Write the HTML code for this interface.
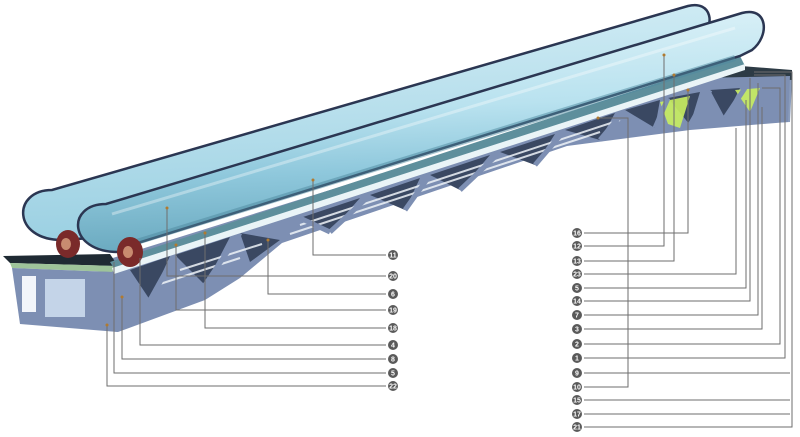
<!DOCTYPE html>
<html><head><meta charset="utf-8"><style>
html,body{margin:0;padding:0;background:#fff;}
svg{display:block;}
text{font-family:"Liberation Sans",sans-serif;font-size:7px;font-weight:bold;fill:#fff;text-anchor:middle;}
</style></head><body>
<svg width="800" height="437" viewBox="0 0 800 437" xmlns="http://www.w3.org/2000/svg">
<defs>
<linearGradient id="gl" x1="0" y1="0" x2="0.12" y2="1">
<stop offset="0" stop-color="#e2f4f9"/><stop offset="0.45" stop-color="#b9e2ef"/><stop offset="0.7" stop-color="#8fc8dc"/><stop offset="1" stop-color="#6aa9bf"/>
</linearGradient>
<linearGradient id="gl2" x1="0" y1="0" x2="0.12" y2="1">
<stop offset="0" stop-color="#d4eef6"/><stop offset="1" stop-color="#9bd0e2"/>
</linearGradient>
</defs>

<!-- rear balustrade -->
<path d="M62,240 C12,240 12,190 52,190 L688,6 C712,0 716,26 700,38 L668,56 L120,236 Z" fill="url(#gl2)" stroke="#2b3652" stroke-width="2.5"/>

<!-- right landing -->
<polygon points="690,62 792,70 792,80 700,78" fill="#2d3b45"/>
<polygon points="700,78 792,80 790,122 700,126" fill="#8a9cbc"/>
<rect x="735" y="92" width="40" height="30" fill="#c6d8ea"/>

<!-- truss -->
<polygon points="100,262 640,93 700,78 790,76 788,122 690,130 567,146 282,243 240,278 205,300 118,332 100,330" fill="#7d8fb3"/>
<g fill="#3a4862">
<polygon points="130,270 170,256 150,300"/>
<polygon points="175,255 230,237 205,285"/>
<polygon points="240,233 280,240 250,262"/>
<polygon points="300,218 360,198 330,232"/>
<polygon points="370,195 420,178 405,210"/>
<polygon points="430,175 490,155 460,190"/>
<polygon points="500,152 555,134 535,165"/>
<polygon points="565,130 615,113 600,140"/>
<polygon points="625,110 660,100 655,128"/>
<polygon points="668,98 700,92 690,125"/>
<polygon points="710,90 740,88 725,118"/>
</g>
<g fill="#c9ef60" opacity="0.9">
<polygon points="660,102 690,96 680,128 668,124"/>
<polygon points="735,90 760,88 750,112"/>
</g>
<g stroke="#eef3f8" stroke-width="2" opacity="0.85">
<line x1="300" y1="225" x2="620" y2="120"/>
<line x1="290" y1="234" x2="600" y2="132"/>
<line x1="180" y1="270" x2="262" y2="244"/>
<line x1="160" y1="284" x2="240" y2="258"/>
</g>
<g stroke="#7d8fb3" stroke-width="5">
<line x1="150" y1="300" x2="175" y2="255"/><line x1="205" y1="285" x2="240" y2="233"/>
<line x1="330" y1="232" x2="300" y2="218"/><line x1="330" y1="232" x2="370" y2="195"/>
<line x1="405" y1="210" x2="430" y2="175"/><line x1="460" y1="190" x2="500" y2="152"/>
<line x1="535" y1="165" x2="565" y2="130"/><line x1="600" y1="140" x2="625" y2="110"/>
<line x1="655" y1="128" x2="668" y2="98"/><line x1="690" y1="125" x2="710" y2="90"/>
<line x1="725" y1="118" x2="745" y2="88"/>
</g>

<!-- left landing -->
<polygon points="3,256 110,254 118,266 10,263" fill="#1f2a33"/>
<polygon points="10,263 118,266 112,272 12,268" fill="#9ec49a"/>
<polygon points="12,268 112,272 118,332 20,324" fill="#7d8fb3"/>
<rect x="22" y="276" width="14" height="36" fill="#f2f5fa"/>
<rect x="45" y="279" width="40" height="38" fill="#c4d4e8"/>

<!-- deck band -->
<polygon points="110,262 740,56 745,66 115,270" fill="#5e8f9c"/>
<polygon points="112,268 745,64 745,70 114,274" fill="#eaf4f7"/>

<!-- front balustrade -->
<path d="M118,252 C68,252 66,204 106,204 L742,13 C768,6 770,36 752,50 L740,56 L128,246 Z" fill="url(#gl)" stroke="#2b3652" stroke-width="2.5"/>
<path d="M112,214 L735,28" stroke="#ffffff" stroke-width="3" opacity="0.35"/>
<path d="M130,244 L735,58" stroke="#4f8aa0" stroke-width="6" opacity="0.5"/>

<!-- newel wheels -->
<ellipse cx="68" cy="244" rx="12" ry="14" fill="#7a2a2a"/>
<ellipse cx="130" cy="252" rx="13" ry="15" fill="#7a2a2a"/>
<ellipse cx="66" cy="244" rx="5" ry="6" fill="#c88b70"/>
<ellipse cx="128" cy="252" rx="5" ry="6" fill="#c88b70"/>

<!-- leader lines -->
<g stroke="#6e6e6e" stroke-width="1" fill="none">
<polyline points="313,180 313,255 386,255"/>
<polyline points="167,208 167,276 386,276"/>
<polyline points="268,240 268,294 386,294"/>
<polyline points="176,245 176,310 386,310"/>
<polyline points="205,233 205,328 386,328"/>
<polyline points="140,258 140,345 386,345"/>
<polyline points="122,297 122,359 386,359"/>
<polyline points="114,262 114,373 386,373"/>
<polyline points="107,325 107,386 386,386"/>

<polyline points="584,233 688,233 688,90"/>
<polyline points="584,246 664,246 664,55"/>
<polyline points="584,261 674,261 674,75"/>
<polyline points="584,274 736,274 736,128"/>
<polyline points="584,288 746,288 746,100"/>
<polyline points="584,301 750,301 750,78"/>
<polyline points="584,315 758,315 758,83"/>
<polyline points="584,329 762,329 762,107"/>
<polyline points="584,344 780,344 780,88 762,88"/>
<polyline points="584,358 785,358 785,75 754,75"/>
<polyline points="584,373 790,373"/>
<polyline points="584,387 628,387 628,118 598,118"/>
<polyline points="584,400 790,400"/>
<polyline points="584,414 790,414"/>
<polyline points="584,427 792,427 792,72 754,72"/>
</g>

<g fill="#5a5a5a">
<circle cx="393" cy="255" r="5"/><circle cx="393" cy="276" r="5"/><circle cx="393" cy="294" r="5"/>
<circle cx="393" cy="310" r="5"/><circle cx="393" cy="328" r="5"/><circle cx="393" cy="345" r="5"/>
<circle cx="393" cy="359" r="5"/><circle cx="393" cy="373" r="5"/><circle cx="393" cy="386" r="5"/>
<circle cx="577" cy="233" r="5"/><circle cx="577" cy="246" r="5"/><circle cx="577" cy="261" r="5"/>
<circle cx="577" cy="274" r="5"/><circle cx="577" cy="288" r="5"/><circle cx="577" cy="301" r="5"/>
<circle cx="577" cy="315" r="5"/><circle cx="577" cy="329" r="5"/><circle cx="577" cy="344" r="5"/>
<circle cx="577" cy="358" r="5"/><circle cx="577" cy="373" r="5"/><circle cx="577" cy="387" r="5"/>
<circle cx="577" cy="400" r="5"/><circle cx="577" cy="414" r="5"/><circle cx="577" cy="427" r="5"/>
</g>
<g>
<text x="393" y="257.5">11</text><text x="393" y="278.5">20</text><text x="393" y="296.5">6</text>
<text x="393" y="312.5">19</text><text x="393" y="330.5">18</text><text x="393" y="347.5">4</text>
<text x="393" y="361.5">8</text><text x="393" y="375.5">5</text><text x="393" y="388.5">22</text>
<text x="577" y="235.5">16</text><text x="577" y="248.5">12</text><text x="577" y="263.5">13</text>
<text x="577" y="276.5">23</text><text x="577" y="290.5">5</text><text x="577" y="303.5">14</text>
<text x="577" y="317.5">7</text><text x="577" y="331.5">3</text><text x="577" y="346.5">2</text>
<text x="577" y="360.5">1</text><text x="577" y="375.5">9</text><text x="577" y="389.5">10</text>
<text x="577" y="402.5">15</text><text x="577" y="416.5">17</text><text x="577" y="429.5">21</text>
</g>
<g fill="#b07a30">
<circle cx="313" cy="180" r="1.5"/><circle cx="167" cy="208" r="1.5"/><circle cx="268" cy="240" r="1.5"/>
<circle cx="176" cy="245" r="1.5"/><circle cx="205" cy="233" r="1.5"/><circle cx="122" cy="297" r="1.5"/>
<circle cx="107" cy="325" r="1.5"/><circle cx="664" cy="55" r="1.5"/><circle cx="674" cy="75" r="1.5"/>
<circle cx="688" cy="90" r="1.5"/><circle cx="598" cy="118" r="1.5"/>
</g>
</svg>
</body></html>
